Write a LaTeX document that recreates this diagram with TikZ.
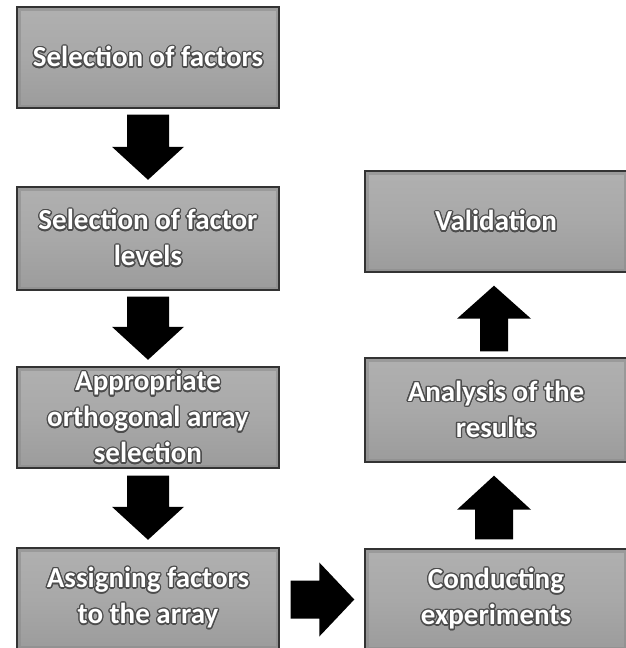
\documentclass[tikz,border=0pt]{standalone}
\usepackage{fontspec}
\setmainfont{Carlito}
\usepackage[copies]{contour}
\contourlength{1.3pt}
\usetikzlibrary{calc}
\newcommand\blockarr[5]{%
  \fill[black] ($(#1)!#3!90:(#2)$) -- ($($(#2)!#5!(#1)$)!#3!-90:(#1)$)
   -- ($($(#2)!#5!(#1)$)!#4!-90:(#1)$) -- (#2)
   -- ($($(#2)!#5!(#1)$)!#4!90:(#1)$) -- ($($(#2)!#5!(#1)$)!#3!90:(#1)$)
   -- ($(#1)!#3!-90:(#2)$) -- cycle;}
\newcommand\boxtext[1]{\contour{black!70}{#1}}
\tikzset{
  stepbox/.style={rectangle, minimum width=262pt, minimum height=101pt,
    top color=gray!62, bottom color=gray!78, middle color=gray!68,
    draw=black!80, line width=1.4pt, text=white, align=center,
    font=\fontsize{29}{36}\selectfont\bfseries, inner sep=0pt,
    path picture={\draw[black!45, line width=3pt, opacity=.6]
      ([shift={(2pt,-2pt)}]path picture bounding box.north west) rectangle
      ([shift={(-2pt,2pt)}]path picture bounding box.south east);}},
}
\begin{document}
\begin{tikzpicture}[x=1pt,y=-1pt]
\useasboundingbox (0,0) rectangle (625,648);
\node[stepbox] (b1) at (148,57.5) {\boxtext{Selection of factors}};
\node[stepbox, minimum height=103pt] (b2) at (148,238.5) {\boxtext{Selection of factor}\\\boxtext{levels}};
\node[stepbox] (b3) at (148,417.5) {\boxtext{Appropriate}\\\boxtext{orthogonal array}\\\boxtext{selection}};
\node[stepbox] (b4) at (148,598.5) {\boxtext{Assigning factors}\\\boxtext{to the array}};
\node[stepbox] (b5) at (496,599.5) {\boxtext{Conducting}\\\boxtext{experiments}};
\node[stepbox, minimum height=104pt] (b6) at (496,410) {\boxtext{Analysis of the}\\\boxtext{results}};
\node[stepbox] (b7) at (496,221.5) {\boxtext{Validation}};
\coordinate (a1s) at ($(b1.south)+(0,6)$);
\coordinate (a1e) at ($(b2.north)+(0,-6.5)$);
\coordinate (a2s) at ($(b2.south)+(0,6)$);
\coordinate (a2e) at ($(b3.north)+(0,-6.5)$);
\coordinate (a3s) at ($(b3.south)+(0,7)$);
\coordinate (a3e) at ($(b4.north)+(0,-7.5)$);
\coordinate (a4s) at ($(b4.east|-b5.east)+(11,0)$);
\coordinate (a4e) at ($(b5.west)+(-10,0)$);
\coordinate (a5s) at ($(b5.north)+(-2,-9)$);
\coordinate (a5e) at ($(b6.south)+(-2,13)$);
\coordinate (a6s) at ($(b6.north)+(-2,-6)$);
\coordinate (a6e) at ($(b7.south)+(-2,13)$);
\blockarr{a1s}{a1e}{21pt}{36pt}{33pt}
\blockarr{a2s}{a2e}{21pt}{36pt}{33pt}
\blockarr{a3s}{a3e}{21pt}{36pt}{33pt}
\blockarr{a4s}{a4e}{19pt}{37pt}{35pt}
\blockarr{a5s}{a5e}{19pt}{37pt}{34pt}
\blockarr{a6s}{a6e}{14pt}{37pt}{33pt}
\end{tikzpicture}
\end{document}
